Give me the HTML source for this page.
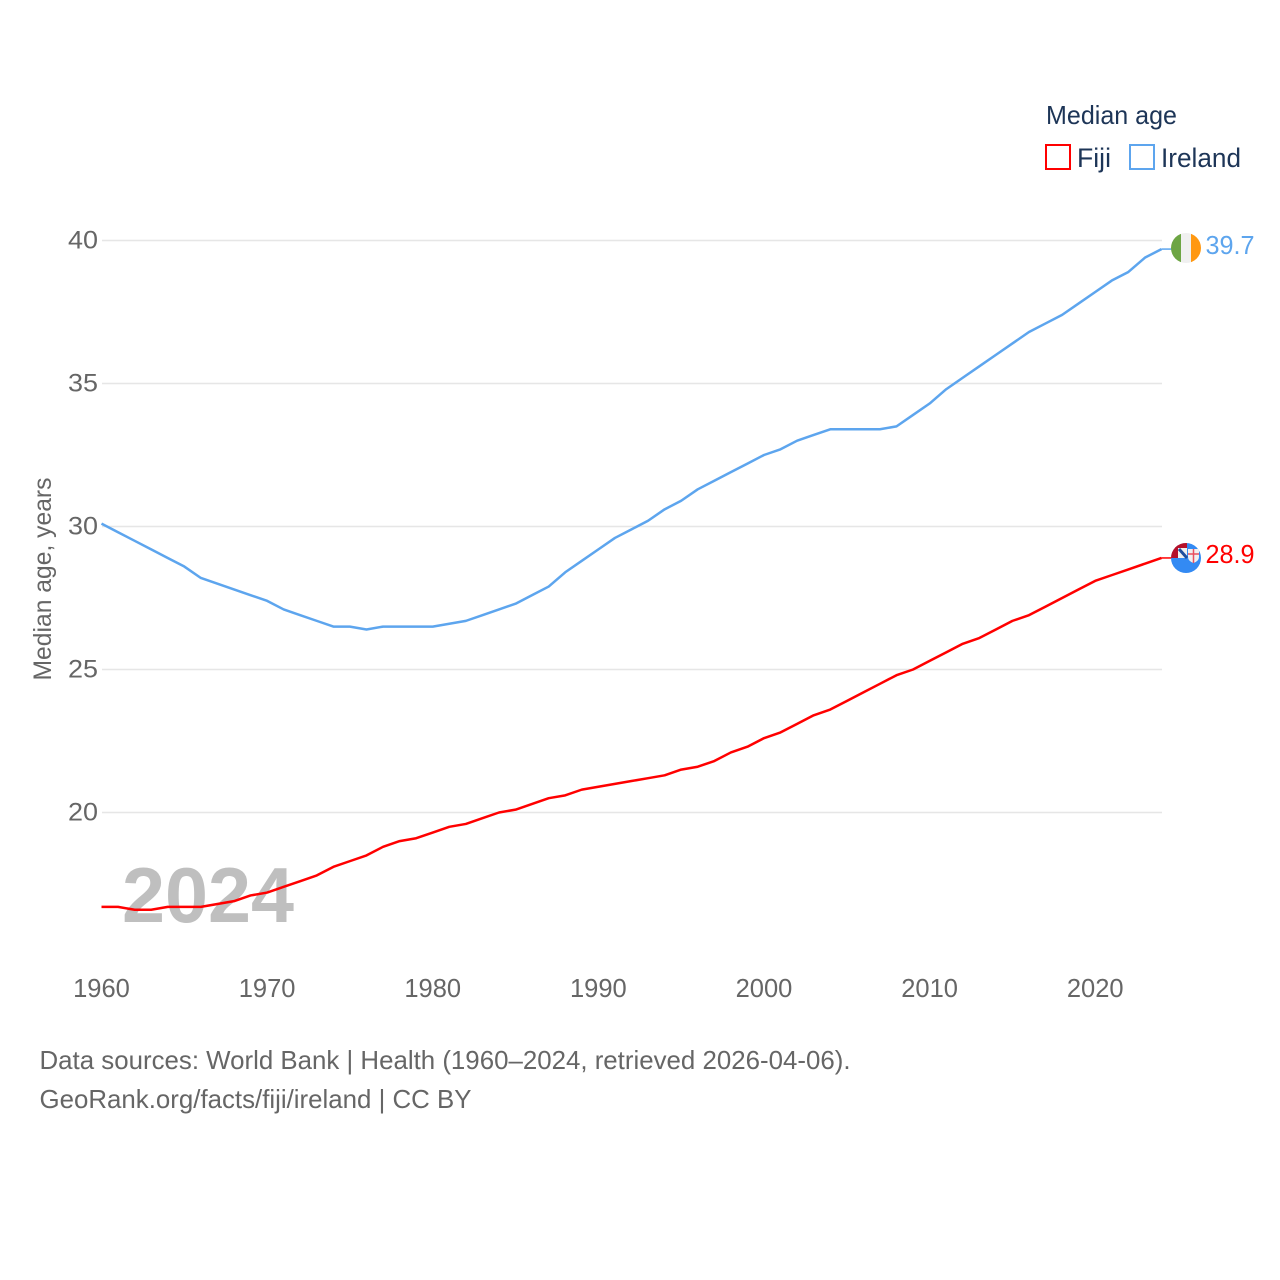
<!DOCTYPE html>
<html lang="en">
<head>
<meta charset="utf-8">
<title>Median age: Fiji and Ireland</title>
<style>
html,body{margin:0;padding:0;background:#fff;width:1280px;height:1280px;overflow:hidden}
svg{display:block}
text{font-family:"Liberation Sans",sans-serif}
</style>
</head>
<body>
<svg id="chart" width="1280" height="1280" viewBox="0 0 1280 1280" xmlns="http://www.w3.org/2000/svg">
  <defs>
    <clipPath id="clip-ie"><circle cx="1186" cy="248" r="15"/></clipPath>
    <clipPath id="clip-fj"><circle cx="1186" cy="558" r="15"/></clipPath>
  </defs>

  <g>
    <text x="1046" y="124" font-size="26" fill="#1d3557" textLength="131" lengthAdjust="spacingAndGlyphs">Median age</text>
    <rect x="1046" y="145" width="24" height="24" fill="none" stroke="#ff0000" stroke-width="2"/>
    <text x="1077" y="167" font-size="27" fill="#1d3557" textLength="34" lengthAdjust="spacingAndGlyphs">Fiji</text>
    <rect x="1130" y="145" width="24" height="24" fill="none" stroke="#5da5ee" stroke-width="2"/>
    <text x="1161" y="167" font-size="27" fill="#1d3557" textLength="80" lengthAdjust="spacingAndGlyphs">Ireland</text>
  </g>

  <g id="grid"></g>
  <g id="yticks"></g>
  <g id="xticks"></g>

  <text transform="translate(51,579) rotate(-90)" text-anchor="middle" font-size="25" fill="#666" textLength="203" lengthAdjust="spacingAndGlyphs">Median age, years</text>

  <text x="122" y="922" font-size="78" font-weight="bold" fill="#bfbfbf" textLength="172" lengthAdjust="spacingAndGlyphs">2024</text>

  <g id="series"></g>

  <g clip-path="url(#clip-ie)">
    <rect x="1171" y="233" width="10" height="30" fill="#6da544"/>
    <rect x="1181" y="233" width="10" height="30" fill="#f0f0f0"/>
    <rect x="1191" y="233" width="10" height="30" fill="#ff9811"/>
  </g>
  <g clip-path="url(#clip-fj)">
    <rect x="1171" y="543" width="30" height="30" fill="#338af3"/>
    <rect x="1171" y="543" width="16" height="15" fill="#f0f0f0"/>
    <rect x="1171" y="543" width="16" height="5" fill="#b5102a"/>
    <rect x="1171" y="543" width="7" height="15" fill="#b5102a"/>
    <path d="M1179 549L1187 558" stroke="#1f4e9e" stroke-width="3"/>
    <path d="M1188 549H1199V557Q1199 561 1193.500 563Q1188 561 1188 557Z" fill="#f0f0f0"/>
    <path d="M1193.500 549V563M1188 554H1199" stroke="#e8505f" stroke-width="1.500"/>
  </g>
  <text id="value-ireland" x="1205.500" y="254" font-size="26" fill="#5da5ee" textLength="49" lengthAdjust="spacingAndGlyphs">39.7</text>
  <text id="value-fiji" x="1205.500" y="563" font-size="26" fill="#ff0000" textLength="49" lengthAdjust="spacingAndGlyphs">28.9</text>

  <g>
    <text x="39.500" y="1069" font-size="26" fill="#666" textLength="811" lengthAdjust="spacingAndGlyphs">Data sources: World Bank | Health (1960–2024, retrieved 2026-04-06).</text>
    <text x="39.500" y="1108" font-size="26" fill="#666" textLength="432" lengthAdjust="spacingAndGlyphs">GeoRank.org/facts/fiji/ireland | CC BY</text>
  </g>
</svg>
<script>
const startYear = 1960;
const yTickValues = [20, 25, 30, 35, 40];
const xTickValues = [1960, 1970, 1980, 1990, 2000, 2010, 2020];
const irelandValues = [30.1,29.8,29.5,29.2,28.9,28.6,28.2,28.0,27.8,27.6,27.4,27.1,26.9,26.7,26.5,26.5,26.4,26.5,26.5,26.5,26.5,26.6,26.7,26.9,27.1,27.3,27.6,27.9,28.4,28.8,29.2,29.6,29.9,30.2,30.6,30.9,31.3,31.6,31.9,32.2,32.5,32.7,33.0,33.2,33.4,33.4,33.4,33.4,33.5,33.9,34.3,34.8,35.2,35.6,36.0,36.4,36.8,37.1,37.4,37.8,38.2,38.6,38.9,39.4,39.7];
const fijiValues = [16.7,16.7,16.6,16.6,16.7,16.7,16.7,16.8,16.9,17.1,17.2,17.4,17.6,17.8,18.1,18.3,18.5,18.8,19.0,19.1,19.3,19.5,19.6,19.8,20.0,20.1,20.3,20.5,20.6,20.8,20.9,21.0,21.1,21.2,21.3,21.5,21.6,21.8,22.1,22.3,22.6,22.8,23.1,23.4,23.6,23.9,24.2,24.5,24.8,25.0,25.3,25.6,25.9,26.1,26.4,26.7,26.9,27.2,27.5,27.8,28.1,28.3,28.5,28.7,28.9];

const NS = 'http://www.w3.org/2000/svg';
const xScale = function (year) { return 101.5 + (year - 1960) * (1060 / 64); };
const yScale = function (v) { return 240.5 + (40 - v) * 28.6; };

function make(tag, parent) {
  const el = document.createElementNS(NS, tag);
  parent.appendChild(el);
  return el;
}

const grid = document.getElementById('grid');
const yticks = document.getElementById('yticks');
yTickValues.forEach(function (v) {
  const line = make('line', grid);
  
  
  line.setAttribute('x1', 102);
  line.setAttribute('x2', 1162);
  line.setAttribute('y1', yScale(v));
  line.setAttribute('y2', yScale(v));
  line.setAttribute('stroke', '#e6e6e6');
  line.setAttribute('stroke-width', 1.5);
  const label = make('text', yticks);
  
  
  label.setAttribute('x', 68);
  label.setAttribute('y', yScale(v) + 8);
  label.setAttribute('font-size', 25);
  label.setAttribute('fill', '#666');
  label.setAttribute('textLength', 30);
  label.setAttribute('lengthAdjust', 'spacingAndGlyphs');
  label.textContent = v;
});

const xticks = document.getElementById('xticks');
xTickValues.forEach(function (year) {
  const label = make('text', xticks);
  
  
  label.setAttribute('x', xScale(year));
  label.setAttribute('y', 997);
  label.setAttribute('text-anchor', 'middle');
  label.setAttribute('font-size', 25.5);
  label.setAttribute('fill', '#666');
  label.textContent = year;
});

const seriesGroup = document.getElementById('series');
function drawSeries(values, color) {
  const pts = values.map(function (v, i) {
    return xScale(startYear + i).toFixed(2) + ',' + yScale(v).toFixed(2);
  });
  const line = make('polyline', seriesGroup);
  
  
  line.setAttribute('points', pts.join(' '));
  line.setAttribute('fill', 'none');
  line.setAttribute('stroke', color);
  line.setAttribute('stroke-width', 2.5);
  line.setAttribute('stroke-linejoin', 'round');
  const last = values[values.length - 1];
  const connector = make('line', seriesGroup);
  
  
  connector.setAttribute('x1', xScale(startYear + values.length - 1));
  connector.setAttribute('x2', 1172);
  connector.setAttribute('y1', yScale(last));
  connector.setAttribute('y2', yScale(last));
  connector.setAttribute('stroke', color);
  connector.setAttribute('stroke-width', 1.5);
}
drawSeries(irelandValues, '#5da5ee');
drawSeries(fijiValues, '#ff0000');
document.getElementById('value-ireland').textContent = irelandValues[irelandValues.length - 1].toFixed(1);
document.getElementById('value-fiji').textContent = fijiValues[fijiValues.length - 1].toFixed(1);
</script>
</body>
</html>
